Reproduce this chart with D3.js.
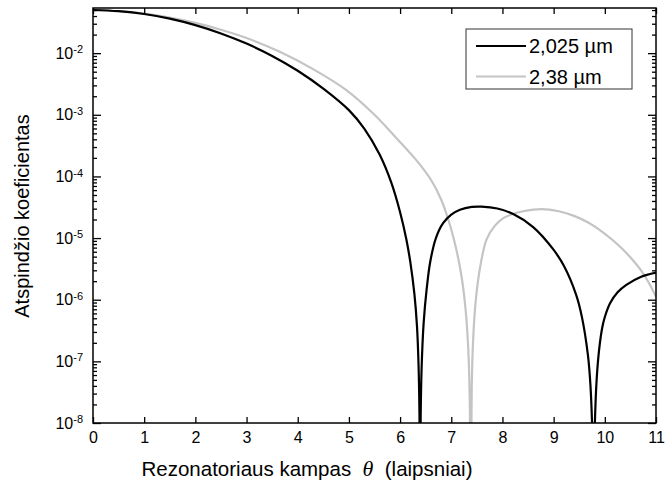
<!DOCTYPE html>
<html>
<head>
<meta charset="utf-8">
<script src="https://cdn.jsdelivr.net/npm/d3@7"></script>
<style>
    body { margin: 0; background: #fff; }
    .chart { width: 666px; height: 488px; }
    svg { font-family: "Liberation Sans", Arial, sans-serif; }
    .axis path.domain { display: none; }
    .axis line { stroke: #000; stroke-width: 1.3px; }
</style>
</head>
<body>
<div class="chart"></div>
<script>

//values, angle in degrees and reflection coefficient
let thetaBlack = [0, 0.5, 1, 1.5, 2, 2.5, 3, 3.5, 4, 4.5, 5, 5.3, 5.6, 5.83, 6.0, 6.12, 6.2, 6.28, 6.33, 6.36, 6.378, 6.39, 6.402, 6.42, 6.46, 6.52, 6.59, 6.7, 6.84, 7.0, 7.17, 7.4, 7.59, 7.9, 8.21, 8.6, 8.99, 9.2, 9.44, 9.55, 9.67, 9.72, 9.76, 9.78, 9.8, 9.84, 9.89, 9.95, 10.0, 10.1, 10.25, 10.42, 10.7, 11];
let reflBlack  = [5.01e-2, 4.79e-2, 4.32e-2, 3.63e-2, 2.85e-2, 2.09e-2, 1.43e-2, 9.02e-3, 5.19e-3, 2.66e-3, 1.19e-3, 5.96e-4, 2.26e-4, 7.85e-5, 2.63e-5, 9.77e-6, 4.07e-6, 1.23e-6, 3.72e-7, 9.12e-8, 1.48e-8, 1e-10, 1.23e-8, 7.59e-8, 4.17e-7, 1.51e-6, 4.17e-6, 1.0e-5, 1.74e-5, 2.40e-5, 2.88e-5, 3.20e-5, 3.24e-5, 3.02e-5, 2.45e-5, 1.51e-5, 6.61e-6, 3.55e-6, 1.20e-6, 5.37e-7, 1.26e-7, 3.98e-8, 5.01e-9, 1e-10, 6.31e-9, 5.01e-8, 1.58e-7, 3.55e-7, 5.25e-7, 8.71e-7, 1.32e-6, 1.74e-6, 2.34e-6, 2.75e-6];

let thetaGray = [0, 0.5, 1, 1.5, 2, 2.5, 3, 3.65, 4.3, 4.95, 5.5, 5.93, 6.3, 6.6, 6.8, 6.91, 7.0, 7.1, 7.2, 7.28, 7.33, 7.36, 7.38, 7.4, 7.43, 7.48, 7.56, 7.69, 7.85, 8.01, 8.2, 8.4, 8.76, 9.1, 9.4, 9.7, 9.97, 10.3, 10.62, 10.8, 11];
let reflGray   = [5.01e-2, 4.79e-2, 4.37e-2, 3.76e-2, 3.09e-2, 2.40e-2, 1.76e-2, 1.05e-2, 5.50e-3, 2.51e-3, 1.0e-3, 4.17e-4, 1.91e-4, 8.91e-5, 4.27e-5, 2.40e-5, 1.38e-5, 6.46e-6, 2.40e-6, 6.92e-7, 1.70e-7, 2.63e-8, 1e-10, 3.98e-8, 2.51e-7, 1.0e-6, 3.24e-6, 9.55e-6, 1.58e-5, 2.09e-5, 2.45e-5, 2.72e-5, 2.95e-5, 2.72e-5, 2.29e-5, 1.74e-5, 1.23e-5, 7.24e-6, 3.72e-6, 2.29e-6, 1.12e-6];

let seriesLabels = ["2,025 \u00b5m", "2,38 \u00b5m"];
let seriesColors = ["#000000", "#c4c4c4"];

let xTicks = [0, 1, 2, 3, 4, 5, 6, 7, 8, 9, 10, 11];
let yTickExps = [-8, -7, -6, -5, -4, -3, -2];
let yMinorMult = [2, 3, 4, 5, 6, 7, 8, 9];

let chart = {};

init();

function init() {
    chart.series = [
        { label: seriesLabels[0], color: seriesColors[0], pts: thetaBlack.map((t, i) => [t, reflBlack[i]]) },
        { label: seriesLabels[1], color: seriesColors[1], pts: thetaGray.map((t, i) => [t, reflGray[i]]) }
    ];
    setDimensions();
    setScales();
    appendElements();
    updateElements();
}

function setDimensions() {
    chart.margin = { top: 8, right: 10, bottom: 65, left: 93 };
    chart.width = 666 - chart.margin.left - chart.margin.right;
    chart.height = 488 - chart.margin.top - chart.margin.bottom;
}

function setScales() {
    chart.xScale = d3.scaleLinear()
        .range([0, chart.width])
        .domain([0, 11]);

    //log axis, top a bit above 5e-2
    chart.yScale = d3.scaleLog()
        .range([chart.height, 0])
        .domain([1e-8, 0.054]);
}

function appendElements() {
    chart.svg = d3.select(".chart").append("svg")
        .attr("width", 666)
        .attr("height", 488);

    chart.plot = chart.svg.append("g").attr("class", "chart-g");

    chart.plot.append("clipPath").attr("id", "clip")
        .append("rect");

    chart.lines = chart.plot.append("g").attr("clip-path", "url(#clip)");

    chart.xAxis = chart.plot.append("g").classed("axis x-axis", true);
    chart.xTop = chart.plot.append("g").classed("axis", true);
    chart.yAxis = chart.plot.append("g").classed("axis y-axis", true);
    chart.yMinor = chart.plot.append("g").classed("axis", true);
    chart.yRight = chart.plot.append("g").classed("axis", true);
    chart.yRightMinor = chart.plot.append("g").classed("axis", true);

    chart.frame = chart.plot.append("rect");
    chart.legend = chart.plot.append("g");
}

function updateElements() {
    let x = chart.xScale, y = chart.yScale;

    chart.plot.attr("transform", `translate(${chart.margin.left},${chart.margin.top})`);
    chart.plot.select("#clip rect")
        .attr("width", chart.width)
        .attr("height", chart.height);

    let line = d3.line()
        .x(d => x(d[0]))
        .y(d => y(d[1]))
        .curve(d3.curveCatmullRom.alpha(0.5));

    //grey first so the black one sits on top
    chart.lines.selectAll("path")
        .data(chart.series.slice().reverse())
        .join("path")
        .attr("d", d => line(d.pts))
        .attr("fill", "none")
        .attr("stroke", d => d.color)
        .attr("stroke-width", 2.2);

    let majors = yTickExps.map(e => Math.pow(10, e));
    let minors = [];
    yTickExps.concat([-1]).forEach(e => {
        yMinorMult.forEach(m => {
            let v = m * Math.pow(10, e - 1);
            if (v > 1e-8 && v < 0.054) minors.push(v);
        });
    });

    chart.xAxis.attr("transform", `translate(0,${chart.height})`)
        .call(d3.axisBottom(x).tickValues(xTicks).tickSize(-6).tickPadding(9).tickFormat(d3.format("d")));

    chart.xTop.call(d3.axisTop(x).tickValues(xTicks).tickSize(-6).tickFormat(""));

    chart.yAxis.call(d3.axisLeft(y).tickValues(majors).tickSize(-8).tickPadding(10));
    chart.yMinor.call(d3.axisLeft(y).tickValues(minors).tickSize(-4).tickFormat(""));
    chart.yRight.attr("transform", `translate(${chart.width},0)`)
        .call(d3.axisRight(y).tickValues(majors).tickSize(-8).tickFormat(""));
    chart.yRightMinor.attr("transform", `translate(${chart.width},0)`)
        .call(d3.axisRight(y).tickValues(minors).tickSize(-4).tickFormat(""));

    chart.plot.selectAll(".axis text")
        .attr("fill", "#000")
        .attr("font-family", "Liberation Sans, Arial, sans-serif")
        .attr("font-size", "16px");

    //powers of ten with a raised exponent
    chart.yAxis.selectAll(".tick text").each(function(d) {
        let t = d3.select(this);
        let e = Math.round(Math.log10(d));
        t.text("");
        t.append("tspan").text("10");
        t.append("tspan").attr("dy", "-0.5em").attr("font-size", "11px").text(e);
    });

    chart.frame
        .attr("width", chart.width)
        .attr("height", chart.height)
        .attr("fill", "none")
        .attr("stroke", "#000")
        .attr("stroke-width", 1.5);

    //axis titles
    chart.svg.selectAll(".title").remove();
    let xt = chart.svg.append("text").attr("class", "title")
        .attr("x", 307).attr("y", 476)
        .attr("text-anchor", "middle")
        .attr("font-size", "20.5px")
        .style("white-space", "pre");
    xt.append("tspan").text("Rezonatoriaus kampas  ");
    xt.append("tspan").attr("font-family", "Liberation Serif, serif").attr("font-style", "italic").attr("font-size", "22px").text("\u03b8");
    xt.append("tspan").text("  (laipsniai)");

    chart.svg.append("text").attr("class", "title")
        .attr("transform", "translate(29,216) rotate(-90)")
        .attr("text-anchor", "middle")
        .attr("font-size", "20px")
        .text("Atspind\u017eio koeficientas");

    //legend box
    let lg = chart.legend.attr("transform", `translate(${466 - chart.margin.left},${29 - chart.margin.top})`);
    lg.append("rect")
        .attr("width", 166).attr("height", 60)
        .attr("fill", "#fff")
        .attr("stroke", "#333").attr("stroke-width", 1);
    let rows = lg.selectAll(".row").data(chart.series).join("g")
        .attr("class", "row")
        .attr("transform", (d, i) => `translate(0,${17 + i * 30.5})`);
    rows.append("line")
        .attr("x1", 10).attr("x2", 60)
        .attr("stroke", d => d.color).attr("stroke-width", 2.2);
    rows.append("text")
        .attr("x", 63).attr("y", 7)
        .attr("font-size", "20px")
        .text(d => d.label);
}

</script>
</body>
</html>
